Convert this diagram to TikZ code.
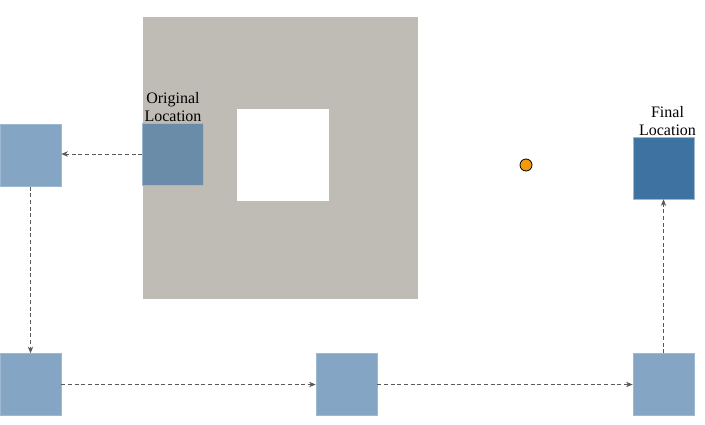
\documentclass[tikz,border=0pt]{standalone}
\usepackage{fontspec}
\setmainfont{Liberation Serif}
\usetikzlibrary{arrows.meta}

\definecolor{wallgray}{HTML}{BFBCB5}
\definecolor{stepblue}{HTML}{84A6C4}
\definecolor{startblue}{HTML}{6B8CA9}
\definecolor{goalblue}{HTML}{3E73A1}
\definecolor{dotorange}{HTML}{F39A0C}

\tikzset{
  pose/.style={minimum width=45.75pt, minimum height=46.5pt, inner sep=0pt,
    fill=stepblue, draw=stepblue!80!white, line width=0.4pt,
    path picture={\draw[black!55, line width=1pt]
      (path picture bounding box.south west) -- (path picture bounding box.north west);}},
  move/.style={densely dashed, draw=black!65, line width=0.6pt, -{Stealth[length=5pt,width=4pt]}},
  tag/.style={anchor=south, align=center, inner sep=0.5pt, font=\fontsize{12pt}{13.5pt}\selectfont}
}

\begin{document}
\begin{tikzpicture}[x=0.75pt, y=-0.75pt]
  \useasboundingbox (0,0) rectangle (705,424);

  % obstacle with a hole
  \fill[wallgray] (143,17) rectangle (418,299);
  \fill[white] (237,109) rectangle (329,201);

  % poses along the path
  \node[pose, fill=startblue] at (173,154) (start) {};
  \node[pose] at (30.5,155.5) (p1) {};
  \node[pose] at (30.5,384.5) (p2) {};
  \node[pose] at (346.5,384.5) (p3) {};
  \node[pose] at (663.5,384.5) (p4) {};
  \node[pose, fill=goalblue] at (663.5,168) (goal) {};

  \node[tag] at (start.north) (startlabel) {Original\\Location};
  \node[tag, xshift=3pt] at (goal.north) (goallabel) {Final\\Location};

  % point
  \node[circle, fill=dotorange, draw=black, line width=0.6pt, minimum size=9pt, inner sep=0pt]
    at (526,165) (dot) {};

  % motion
  \draw[move] (start.west) -- (start.west -| p1.east);
  \draw[move] (p1.south) -- (p2.north);
  \draw[move] (p2.east) -- (p3.west);
  \draw[move] (p3.east) -- (p4.west);
  \draw[move] (p4.north) -- (goal.south);
\end{tikzpicture}
\end{document}
